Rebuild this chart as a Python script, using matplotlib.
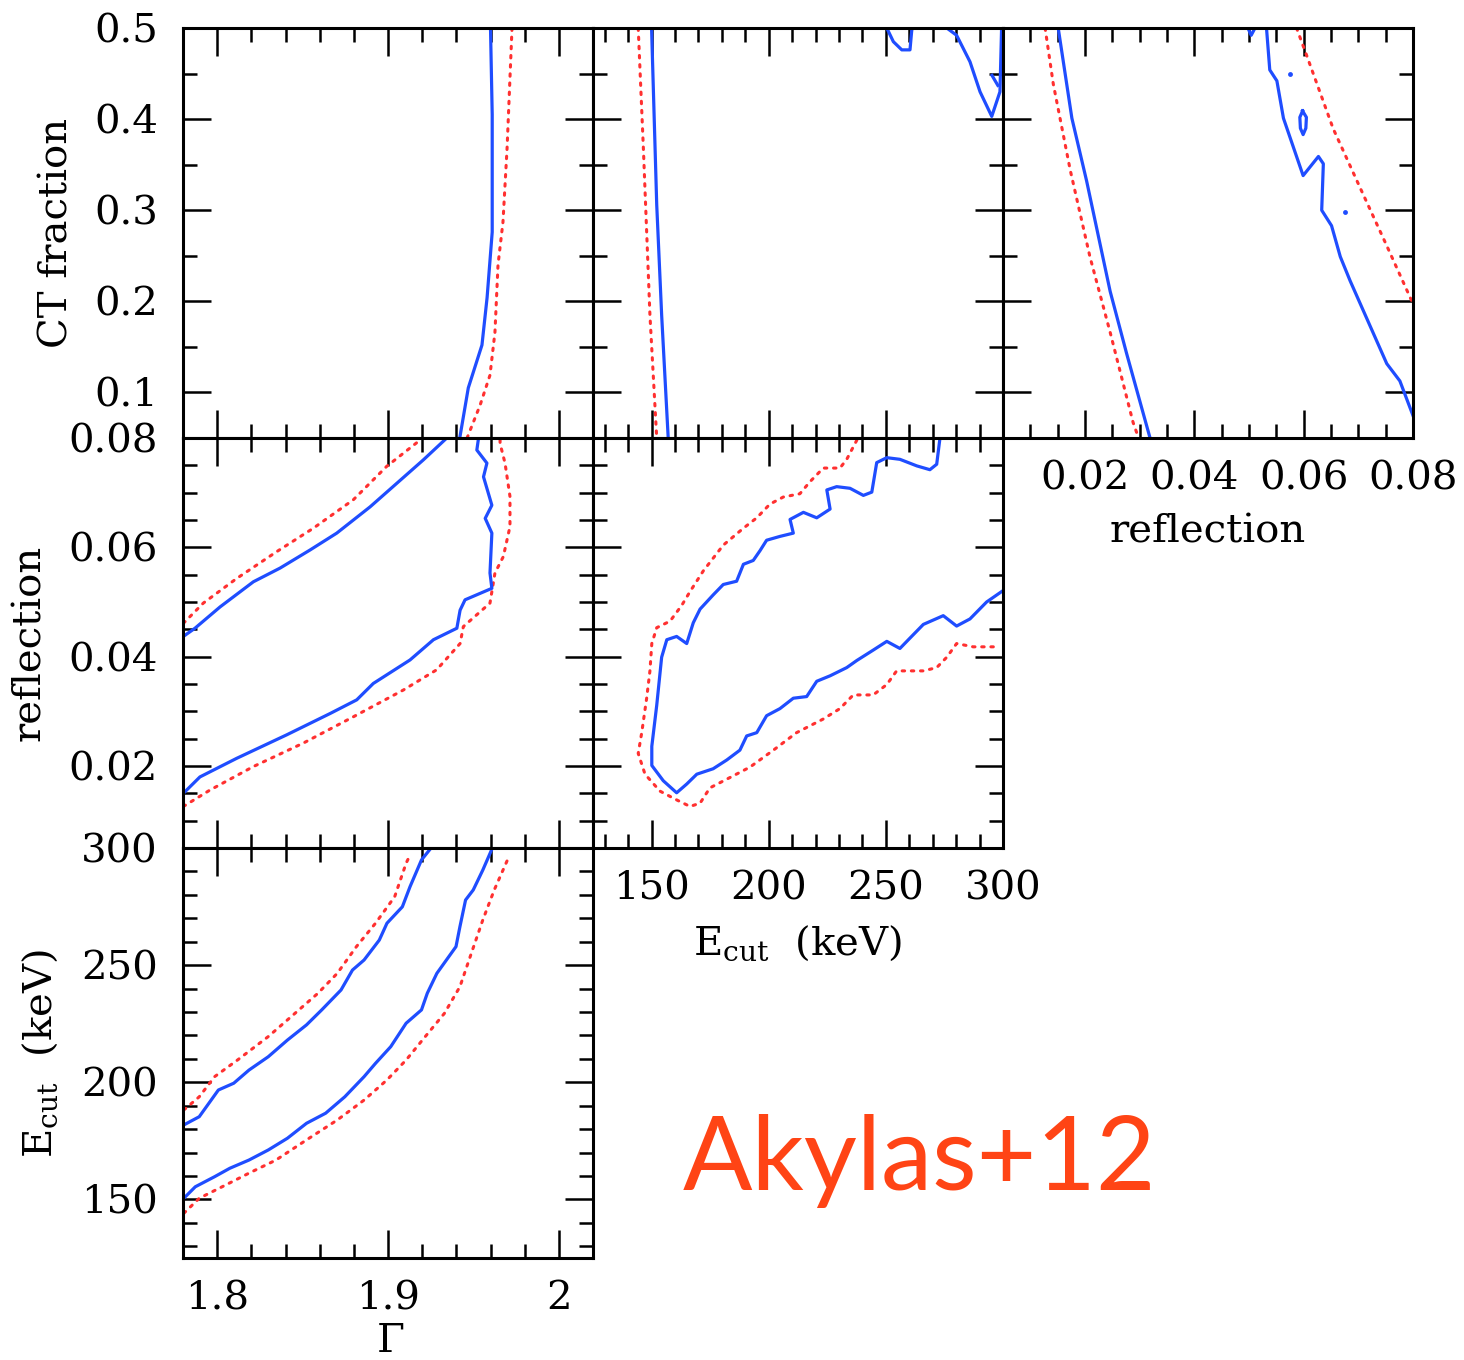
import matplotlib
matplotlib.use("Agg")
import matplotlib.pyplot as plt
from matplotlib.ticker import MultipleLocator, FixedLocator, FixedFormatter

# axis ranges and ticks
gam_lim = (1.78, 2.02)
ecut_lim = (125, 300)
refl_lim = (0.005, 0.08)
ct_lim = (0.05, 0.5)

gam_ticks = [1.8, 1.9, 2.0]
gam_labels = ["1.8", "1.9", "2"]
ecut_ticks = [150, 200, 250, 300]
ecut_labels = ["150", "200", "250", "300"]
refl_ticks = [0.02, 0.04, 0.06, 0.08]
refl_labels = ["0.02", "0.04", "0.06", "0.08"]
ct_ticks = [0.1, 0.2, 0.3, 0.4, 0.5]
ct_labels = ["0.1", "0.2", "0.3", "0.4", "0.5"]

# CT fraction vs Gamma
ct_gam_blue_x = [1.960, 1.961, 1.961, 1.958, 1.955, 1.947, 1.942]
ct_gam_blue_y = [0.50, 0.405, 0.276, 0.204, 0.152, 0.105, 0.05]
ct_gam_red_x = [1.9726, 1.9697, 1.9673, 1.9644, 1.9626, 1.9597, 1.9539, 1.9463]
ct_gam_red_y = [0.50, 0.368, 0.287, 0.240, 0.166, 0.119, 0.086, 0.05]

# CT fraction vs Ecut
ct_ecut_blue_x = [150.0, 152.2, 154.3, 157.1]
ct_ecut_blue_y = [0.50, 0.306, 0.185, 0.05]
ct_ecut_red_x = [144.3, 146.5, 149.3, 152.2]
ct_ecut_red_y = [0.50, 0.368, 0.185, 0.05]
ct_ecut_blob1_x = [250.4, 253.2, 256.8, 260.3, 261.0, 261.2]
ct_ecut_blob1_y = [0.50, 0.485, 0.476, 0.476, 0.496, 0.50]
ct_ecut_blob2_x = [276.0, 280.2, 285.9, 290.2, 295.2, 298.7, 299.4]
ct_ecut_blob2_y = [0.50, 0.492, 0.463, 0.430, 0.403, 0.430, 0.50]
ct_ecut_blob3_x = [295.3, 297.8]
ct_ecut_blob3_y = [0.448, 0.437]

# CT fraction vs reflection
ct_refl_blue1_x = [0.0151, 0.0176, 0.0203, 0.0246, 0.0276, 0.0319]
ct_refl_blue1_y = [0.50, 0.401, 0.332, 0.211, 0.143, 0.05]
ct_refl_red1_x = [0.0127, 0.0142, 0.0173, 0.0209, 0.0246, 0.0288, 0.0298]
ct_refl_red1_y = [0.50, 0.4385, 0.344, 0.249, 0.166, 0.067, 0.05]
ct_refl_blue2_x = [0.0532, 0.0538, 0.0551, 0.0563, 0.0599, 0.0627, 0.0636,
                   0.0633, 0.0651, 0.0667, 0.0685, 0.0752, 0.0776, 0.0800]
ct_refl_blue2_y = [0.50, 0.454, 0.442, 0.401, 0.338, 0.359, 0.351,
                   0.300, 0.283, 0.249, 0.2225, 0.1316, 0.1126, 0.0746]
ct_refl_red2_x = [0.0587, 0.0606, 0.0654, 0.0703, 0.0752, 0.0798]
ct_refl_red2_y = [0.50, 0.469, 0.3895, 0.325, 0.261, 0.200]
ct_refl_loop_x = [0.0598, 0.0605, 0.0604, 0.0599, 0.0594, 0.0593, 0.0598]
ct_refl_loop_y = [0.409, 0.402, 0.390, 0.383, 0.390, 0.402, 0.409]
ct_refl_dots_x = [0.0676, 0.0575]
ct_refl_dots_y = [0.298, 0.4495]
ct_refl_cap_x = [0.0498, 0.0504, 0.0511]
ct_refl_cap_y = [0.50, 0.492, 0.50]

# reflection vs Gamma
refl_gam_blue1_x = [1.7802, 1.787, 1.8017, 1.8212, 1.8368, 1.8543, 1.870,
                    1.8895, 1.9051, 1.9207, 1.9344]
refl_gam_blue1_y = [0.0437, 0.0452, 0.0491, 0.0537, 0.0562, 0.0595, 0.0626,
                    0.0674, 0.0717, 0.0760, 0.0800]
refl_gam_red1_x = [1.7802, 1.7919, 1.8114, 1.8348, 1.8563, 1.8797, 1.8992, 1.9187]
refl_gam_red1_y = [0.0461, 0.0498, 0.0543, 0.0592, 0.0635, 0.0687, 0.0748, 0.0796]
refl_gam_blue2_x = [1.7802, 1.7899, 1.8114, 1.8407, 1.8661, 1.8817, 1.8914,
                    1.9129, 1.9266, 1.9403, 1.9422, 1.9451, 1.9608, 1.9597,
                    1.9608, 1.9569, 1.9608, 1.9559, 1.9579, 1.952, 1.953]
refl_gam_blue2_y = [0.0150, 0.0180, 0.0214, 0.0257, 0.0296, 0.0321, 0.0351,
                    0.0394, 0.0431, 0.0452, 0.0485, 0.0504, 0.0525, 0.0553,
                    0.0626, 0.0653, 0.0677, 0.0729, 0.0754, 0.0778, 0.0800]
refl_gam_red2_x = [1.7802, 1.7958, 1.8212, 1.8505, 1.8797, 1.909, 1.9285,
                   1.9422, 1.9441, 1.9597, 1.9626, 1.9675, 1.9714, 1.9714,
                   1.9685, 1.9656, 1.9656]
refl_gam_red2_y = [0.0126, 0.0156, 0.0199, 0.0242, 0.0290, 0.0339, 0.0376,
                   0.0424, 0.0455, 0.0498, 0.0553, 0.0583, 0.0638, 0.0693,
                   0.0754, 0.0790, 0.0800]

# reflection vs Ecut
refl_ecut_blue_x = [273.1, 271.7, 268.8, 263.2, 256.0, 250.4, 246.1, 244.0,
                    240.4, 234.7, 229.0, 224.8, 226.2, 220.5, 214.8, 209.1,
                    210.5, 204.8, 199.1, 196.3, 193.4, 189.2, 186.3, 180.6,
                    176.3, 170.7, 167.8, 165.0, 160.7, 156.5, 154.3, 152.2,
                    150.1, 150.1, 155.0, 160.7, 165.0, 169.3, 176.3, 182.1,
                    187.7, 190.6, 194.9, 199.1, 204.8, 210.5, 216.2, 220.5,
                    226.2, 233.3, 237.6, 244.6, 250.4, 256.0, 260.3, 266.0,
                    274.5, 280.2, 285.9, 293.0, 299.4]
refl_ecut_blue_y = [0.0800, 0.0752, 0.0742, 0.0749, 0.0761, 0.0764, 0.0755,
                    0.0701, 0.0695, 0.0708, 0.0711, 0.0705, 0.0670, 0.0654,
                    0.0664, 0.0651, 0.0626, 0.0620, 0.0613, 0.0594, 0.0576,
                    0.0569, 0.0538, 0.0532, 0.0513, 0.0487, 0.0462, 0.0424,
                    0.0437, 0.0431, 0.0399, 0.0311, 0.0236, 0.0201, 0.0173,
                    0.0151, 0.0167, 0.0185, 0.0195, 0.0211, 0.0229, 0.0255,
                    0.0261, 0.0292, 0.0305, 0.0324, 0.0327, 0.0355, 0.0365,
                    0.0380, 0.0393, 0.0412, 0.0428, 0.0415, 0.0434, 0.0459,
                    0.0475, 0.0456, 0.0469, 0.0500, 0.0519]
refl_ecut_red_x = [237.6, 233.3, 230.4, 223.3, 217.6, 213.3, 206.2, 200.5,
                   194.9, 189.2, 180.6, 172.1, 166.4, 162.9, 157.9, 152.2,
                   150.1, 149.3, 147.9, 145.8, 144.3, 147.2, 153.6, 160.7,
                   166.4, 170.7, 174.9, 183.5, 192.0, 202.0, 211.9, 223.3,
                   230.4, 236.1, 244.6, 250.4, 254.6, 266.0, 271.7, 276.0,
                   280.2, 287.3, 296.6]
refl_ecut_red_y = [0.0796, 0.0761, 0.0745, 0.0745, 0.0720, 0.0698, 0.0692,
                   0.0679, 0.0654, 0.0635, 0.0604, 0.0557, 0.0519, 0.0494,
                   0.0465, 0.0453, 0.0424, 0.0374, 0.0324, 0.0261, 0.0223,
                   0.0185, 0.0154, 0.0138, 0.0126, 0.0132, 0.0160, 0.0179,
                   0.0198, 0.0229, 0.0261, 0.0286, 0.0305, 0.0330, 0.0330,
                   0.0349, 0.0374, 0.0374, 0.0380, 0.0399, 0.0424, 0.0418,
                   0.0418]

# Ecut vs Gamma
ecut_gam_blue1_x = [1.7805, 1.7895, 1.7951, 1.8007, 1.8097, 1.8186, 1.8299,
                    1.8411, 1.8523, 1.8612, 1.8725, 1.8792, 1.8860, 1.8949,
                    1.8994, 1.9084, 1.9129, 1.9196, 1.9252]
ecut_gam_blue1_y = [181.8, 185.3, 191.0, 196.7, 199.6, 205.2, 210.9, 218.0,
                    224.5, 230.9, 239.4, 247.9, 252.2, 260.7, 267.9, 274.9,
                    283.5, 294.9, 300.0]
ecut_gam_red1_x = [1.7805, 1.7895, 1.7985, 1.8119, 1.8299, 1.8433, 1.8590,
                   1.8703, 1.8815, 1.8927, 1.9039, 1.9106, 1.9129]
ecut_gam_red1_y = [188.2, 193.8, 202.4, 209.5, 219.5, 228.0, 238.0, 246.5,
                   257.9, 267.9, 279.2, 293.5, 297.0]
ecut_gam_blue2_x = [1.7805, 1.7872, 1.7985, 1.8074, 1.8186, 1.8299, 1.8411,
                    1.8523, 1.8635, 1.8747, 1.8860, 1.8927, 1.9016, 1.9106,
                    1.9196, 1.9230, 1.9286, 1.9342, 1.9398, 1.9421, 1.9454,
                    1.9499, 1.9555, 1.9611]
ecut_gam_blue2_y = [150.5, 155.4, 159.7, 163.3, 166.8, 171.1, 176.1, 182.5,
                    186.8, 193.8, 202.4, 208.1, 215.2, 225.2, 230.9, 238.0,
                    246.5, 252.2, 257.9, 266.4, 277.8, 282.1, 290.6, 300.0]
ecut_gam_red2_x = [1.7805, 1.7895, 1.8029, 1.8186, 1.8344, 1.8523, 1.8703,
                   1.8860, 1.8994, 1.9106, 1.9218, 1.9330, 1.9421, 1.9488,
                   1.9555, 1.9622, 1.9712]
ecut_gam_red2_y = [144.1, 150.5, 155.4, 161.2, 166.8, 175.4, 183.9, 192.4,
                   201.0, 209.5, 219.5, 229.4, 240.8, 255.1, 269.3, 282.1,
                   297.0]

BLUE = "#1f4dff"
RED = "#ff3030"
FONT = "DejaVu Serif"

plt.rcParams["font.family"] = FONT
plt.rcParams["mathtext.fontset"] = "dejavuserif"
plt.rcParams["font.size"] = 29

fig = plt.figure(figsize=(14.64, 13.6), dpi=100)

W = 410 / 1464
H = 410 / 1360
col_left = [183 / 1464, 593 / 1464, 1003 / 1464]
row_bottom = [1 - 438 / 1360, 1 - 848 / 1360, 1 - 1258 / 1360]

axis_info = {
    "gam": (gam_lim, gam_ticks, gam_labels, 0.02),
    "ecut": (ecut_lim, ecut_ticks, ecut_labels, 10),
    "refl": (refl_lim, refl_ticks, refl_labels, 0.005),
    "ct": (ct_lim, ct_ticks, ct_labels, 0.05),
}


def make_panel(row, col, xkey, ykey, show_x, show_y):
    ax = fig.add_axes([col_left[col], row_bottom[row], W, H])
    xlim, xt, xl, xminor = axis_info[xkey]
    ylim, yt, yl, yminor = axis_info[ykey]
    ax.set_xlim(*xlim)
    ax.set_ylim(*ylim)
    ax.xaxis.set_major_locator(FixedLocator(xt))
    ax.yaxis.set_major_locator(FixedLocator(yt))
    ax.xaxis.set_minor_locator(MultipleLocator(xminor))
    ax.yaxis.set_minor_locator(MultipleLocator(yminor))
    ax.xaxis.set_major_formatter(FixedFormatter(xl))
    ax.yaxis.set_major_formatter(FixedFormatter(yl))
    ax.tick_params(which="both", direction="in", top=True, right=True,
                   width=1.8, color="black")
    ax.tick_params(which="major", length=20)
    ax.tick_params(which="minor", length=10)
    ax.tick_params(axis="x", pad=16, labelbottom=show_x)
    ax.tick_params(axis="y", pad=18, labelleft=show_y)
    for s in ax.spines.values():
        s.set_linewidth(2.2)
    return ax


def blue(ax, x, y):
    ax.plot(x, y, color=BLUE, lw=2.3, solid_joinstyle="round")


def red(ax, x, y):
    ax.plot(x, y, color=RED, lw=2.2, linestyle=(0, (0.8, 2.2)),
            dash_capstyle="round")


# top row: CT fraction
ax = make_panel(0, 0, "gam", "ct", False, True)
red(ax, ct_gam_red_x, ct_gam_red_y)
blue(ax, ct_gam_blue_x, ct_gam_blue_y)
ax.set_ylabel("CT fraction")
ax.yaxis.set_label_coords(-0.263, 0.5)

ax = make_panel(0, 1, "ecut", "ct", False, False)
red(ax, ct_ecut_red_x, ct_ecut_red_y)
blue(ax, ct_ecut_blue_x, ct_ecut_blue_y)
blue(ax, ct_ecut_blob1_x, ct_ecut_blob1_y)
blue(ax, ct_ecut_blob2_x, ct_ecut_blob2_y)
blue(ax, ct_ecut_blob3_x, ct_ecut_blob3_y)

ax = make_panel(0, 2, "refl", "ct", True, False)
red(ax, ct_refl_red1_x, ct_refl_red1_y)
red(ax, ct_refl_red2_x, ct_refl_red2_y)
blue(ax, ct_refl_blue1_x, ct_refl_blue1_y)
blue(ax, ct_refl_blue2_x, ct_refl_blue2_y)
blue(ax, ct_refl_loop_x, ct_refl_loop_y)
blue(ax, ct_refl_cap_x, ct_refl_cap_y)
ax.plot(ct_refl_dots_x, ct_refl_dots_y, "o", color=BLUE, ms=3.5, mew=0)
ax.set_xlabel("reflection")
ax.xaxis.set_label_coords(0.5, -0.185)

# middle row: reflection
ax = make_panel(1, 0, "gam", "refl", False, True)
red(ax, refl_gam_red1_x, refl_gam_red1_y)
red(ax, refl_gam_red2_x, refl_gam_red2_y)
blue(ax, refl_gam_blue1_x, refl_gam_blue1_y)
blue(ax, refl_gam_blue2_x, refl_gam_blue2_y)
ax.set_ylabel("reflection")
ax.yaxis.set_label_coords(-0.33, 0.5)

ax = make_panel(1, 1, "ecut", "refl", True, False)
red(ax, refl_ecut_red_x, refl_ecut_red_y)
blue(ax, refl_ecut_blue_x, refl_ecut_blue_y)
ax.set_xlabel(r"E$_{\rm cut}$  (keV)")
ax.xaxis.set_label_coords(0.5, -0.185)

# bottom row: Ecut
ax = make_panel(2, 0, "gam", "ecut", True, True)
red(ax, ecut_gam_red1_x, ecut_gam_red1_y)
red(ax, ecut_gam_red2_x, ecut_gam_red2_y)
blue(ax, ecut_gam_blue1_x, ecut_gam_blue1_y)
blue(ax, ecut_gam_blue2_x, ecut_gam_blue2_y)
ax.set_ylabel(r"E$_{\rm cut}$  (keV)")
ax.yaxis.set_label_coords(-0.30, 0.5)
ax.set_xlabel(r"$\Gamma$")
ax.xaxis.set_label_coords(0.505, -0.158)

fig.text(683 / 1464, 1 - 1190 / 1360, "Akylas+12", color="#ff4415",
         fontsize=74, family=["Lato", "DejaVu Sans"], ha="left", va="baseline")

fig.savefig("out.png", dpi=100)
